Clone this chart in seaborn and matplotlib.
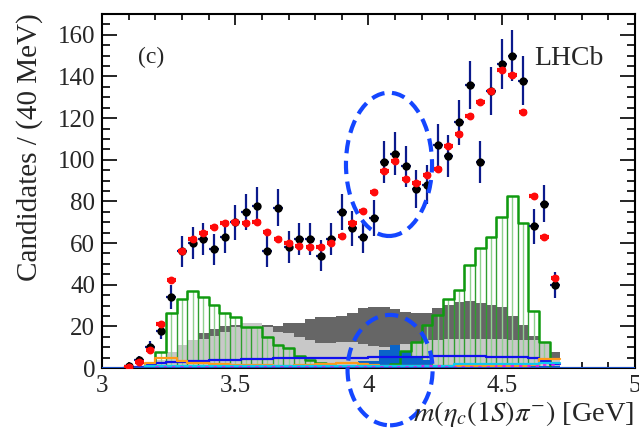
import numpy as np
import pandas as pd
import matplotlib
matplotlib.use("Agg")
import matplotlib.pyplot as plt
import seaborn as sns
from matplotlib.patches import Ellipse
from matplotlib.ticker import MultipleLocator

# ---------------- binning (40 MeV bins) ----------------
bin_lo = 3.08
bin_w = 0.04
n_bins = 41
edges = bin_lo + bin_w * np.arange(n_bins + 1)
centers = edges[:-1] + bin_w / 2

# ---------------- data ----------------
data_counts = [1, 4, 10, 18, 34, 56, 60, 62, 57, 63, 70, 75, 78, 56, 77, 58, 62, 62, 54, 62,
               75, 67, 63, 72, 99, 103, 97, 86, 88, 107, 102, 118, 136, 99, 133, 146, 150, 138,
               68, 79, 40]
fit_values = [0.5, 3, 8.6, 21, 42.3, 56.4, 62, 64.7, 67.5, 69.8, 70.3, 69.5, 70.3, 65.5, 61.8,
              59.9, 58.6, 58, 58.3, 59.9, 63.4, 69.8, 75.2, 84.3, 94.5, 99.3, 91, 88.9, 92.7,
              95.6, 106.5, 112.5, 120.8, 127.6, 133, 143, 140.8, 122.9, 82.5, 62.8, 43.1]
green_comp = [0, 0, 0, 7.8, 26.3, 33, 37.1, 34.3, 30.4, 26.6, 24.5, 19.8, 19.5, 15, 11, 9.5, 6,
              4, 2.4, 1.2, 1, 1, 1, 1, 1, 2, 8, 12.7, 20.5, 25.5, 33.3, 37.3, 49.5, 57.5, 62.8,
              72.3, 82.4, 69.6, 27.2, 12.3, 0]
dark_grey = [0, 0, 0.5, 4, 7.5, 11, 13.5, 16.7, 18.6, 20.2, 20.5, 21.5, 21.5, 20.7, 20, 21.4,
             21.6, 23.5, 24.5, 24.5, 25, 26.5, 29, 29.2, 29.2, 28.5, 27, 26.3, 26.3, 28.7, 30.3,
             31.9, 32.2, 31.1, 30.3, 29.5, 25.2, 20.7, 15.5, 12.3, 7.9]
light_grey = [0, 0, 0.5, 4, 7.5, 11, 13.5, 14, 15.5, 17.5, 19.5, 21.5, 21.5, 19.9, 17.5, 16.7,
              15.1, 13.5, 11.8, 11.8, 12.5, 12.5, 11.5, 10.5, 10, 10.5, 11.5, 12.5, 13.5, 13.5,
              13.8, 14, 14, 14, 14, 13.8, 13.5, 13.5, 13.5, 11.8, 4.6]
blue_fill = [0, 0, 0, 0.3, 0.3, 0.3, 0.3, 0.3, 0.3, 0.3, 0.3, 0.3, 0.3, 0.3, 0.3, 0.3, 0.3,
             1.2, 1.2, 1.2, 1.2, 1.2, 3.4, 3.6, 8.7, 11, 7.8, 5.2, 3.8, 1.5, 1.5, 1.5, 1.5, 1.5,
             1.5, 1.5, 1.5, 1.5, 1, 1, 1]
blue_line = [0, 0.5, 1.5, 2.5, 2.8, 3, 3.2, 3.5, 3.8, 3.8, 4, 4.2, 4.4, 4.5, 4.6, 4.6, 4.8, 4.8,
             5, 5, 5, 5, 5, 5.2, 5.2, 5.2, 5.2, 5.3, 5.5, 5.8, 6, 6, 6, 5.8, 5.5, 5.5, 5.5, 5.2,
             5, 3.5, 2]
orange_comp = [0, 0, 2.6, 4.6, 4.6, 3.5, 2.5, 2.2, 2.0, 1.8, 1.6, 1.5, 1.4, 1.3, 1.2, 1.2, 1.3,
               1.5, 1.8, 2.0, 2.2, 2.2, 2.0, 1.5, 1.2, 1.0, 0.8, 0.8, 0.8, 0.8, 0.8, 0.8, 0.8,
               0.8, 0.8, 0.8, 0.8, 1.0, 1.5, 4.2, 4.2]
cyan_comp = [0, 0, 0.8, 0.8, 0.8, 0.8, 0.8, 0.8, 0.8, 0.8, 0.8, 0.8, 0.8, 0.8, 0.8, 0.8, 0.8,
             0.8, 0.8, 0.8, 0.8, 0.8, 0.8, 0.8, 0.8, 0.8, 0.8, 0.8, 0.8, 0.8, 0.8, 2, 2, 2, 2,
             2, 2, 2, 2, 2.5, 2.5]
magenta_comp = [0, 0, 0, 0.6, 0.6, 0.6, 0.5, 0.5, 0.4, 0.4, 0.4, 0.4, 0.4, 0.4, 0.4, 0.4, 0.4,
                0.4, 0.4, 0.4, 0.4, 0.4, 0.4, 0.4, 0.4, 0.4, 0.4, 0.4, 0.8, 0.8, 0.4, 0.4, 0.4,
                0.4, 0.4, 0.8, 0.8, 0.8, 0.8, 1.5, 1.5]

x_ticks = [3, 3.5, 4, 4.5, 5]
x_tick_labels = ["3", "3.5", "4", "4.5", "5"]
y_ticks = [0, 20, 40, 60, 80, 100, 120, 140, 160]

# ---------------- style ----------------
sns.set_style("ticks")
plt.rcParams['font.family'] = ['Liberation Serif', 'DejaVu Serif']
plt.rcParams['mathtext.fontset'] = 'stix'

fig = plt.figure(figsize=(6.39, 4.32), dpi=100)
ax = fig.add_axes([0.1596, 0.1481, 0.8341, 0.8195])


def hist(vals, **kw):
    df = pd.DataFrame({'m': centers, 'w': np.asarray(vals, dtype=float)})
    sns.histplot(data=df, x='m', weights='w', bins=list(edges), element='step', ax=ax, **kw)


# filled components
hist(dark_grey, fill=True, color='#666666', alpha=1, linewidth=0, zorder=1)
hist(light_grey, fill=True, color='#c8c8c8', alpha=1, linewidth=0, zorder=2)

# green hatched component (vertical hatching)
g = np.array(green_comp)
mask = g > 0
ax.vlines(edges[:-1][mask], 0, g[mask], color='#2f9f2f', lw=1.0, zorder=3)
ax.vlines(centers[mask], 0, g[mask], color='#8fd18f', lw=1.0, zorder=3)

hist(blue_fill, fill=True, color='#0a64c8', alpha=1, linewidth=0, zorder=4)
hist(green_comp, fill=False, color='#109a10', linewidth=1.8, zorder=5)
hist(blue_line, fill=False, color='#1010ee', linewidth=1.6, zorder=6)
hist(orange_comp, fill=False, color='#ff9a1a', linewidth=1.6, zorder=6)
hist(cyan_comp, fill=False, color='#10c8f0', linewidth=1.6, zorder=6)
hist(magenta_comp, fill=False, color='#ee10ee', linewidth=1.2, linestyle=(0, (2, 3)), zorder=6)
ax.axhline(0, color='#1a50c8', lw=2.2, zorder=7)

# data points
d = np.array(data_counts, dtype=float)
ax.errorbar(centers, d, yerr=np.sqrt(d), xerr=0.018, fmt='none', ecolor='#0b1a8c',
            elinewidth=1.6, capsize=0, zorder=9)
sns.scatterplot(x=centers, y=d, color='black', s=36, marker='o', edgecolor='black',
                linewidth=0, zorder=10, ax=ax)

# fit points
ax.errorbar(centers, fit_values, xerr=0.016, fmt='none', ecolor='#ff0a0a', elinewidth=3.0,
            capsize=0, zorder=11)
sns.scatterplot(x=centers, y=np.asarray(fit_values), color='#ff0a0a', s=32, marker='o',
                edgecolor='#ff0a0a', linewidth=0, zorder=12, ax=ax)

# highlighting ellipses
for (cx, cy, w, h) in [(4.077, 97.8, 0.323, 68.8), (4.081, -1.0, 0.319, 53.0)]:
    e = Ellipse((cx, cy), w, h, fill=False, edgecolor='#1446ff', lw=3.0,
                linestyle=(0, (3.2, 1.8)), clip_on=False, zorder=20)
    ax.add_patch(e)

# axes
ax.set_xlim(3, 5)
ax.set_ylim(0, 170)
ax.set_xticks(x_ticks)
ax.set_xticklabels(x_tick_labels)
ax.set_yticks(y_ticks)
ax.xaxis.set_minor_locator(MultipleLocator(0.1))
ax.yaxis.set_minor_locator(MultipleLocator(5))
ax.tick_params(which='both', direction='in', top=True, right=True, labelsize=18,
               color='black', width=1.2)
ax.tick_params(axis='y', which='major', length=11, pad=5)
ax.tick_params(axis='y', which='minor', length=5.5)
ax.tick_params(axis='x', which='major', length=8, pad=5)
ax.tick_params(axis='x', which='minor', length=4)
for sp in ax.spines.values():
    sp.set_linewidth(1.5)
    sp.set_color('black')
    sp.set_visible(True)
ax.set_xlabel('')
ax.set_ylabel('')

fig.text(30 / 639, 1 - 13 / 432, 'Candidates / (40 MeV)', rotation=90, ha='center', va='top',
         fontsize=21)
fig.text(0.992, 1 - 421 / 432, r'$m(\eta_c(1S)\pi^{-})$ [GeV]', ha='right', va='baseline',
         fontsize=20.5)
ax.text(0.067, 0.862, '(c)', transform=ax.transAxes, ha='left', va='baseline', fontsize=17)
ax.text(0.8105, 0.856, 'LHCb', transform=ax.transAxes, ha='left', va='baseline', fontsize=20)

fig.savefig('out.png', dpi=100)
